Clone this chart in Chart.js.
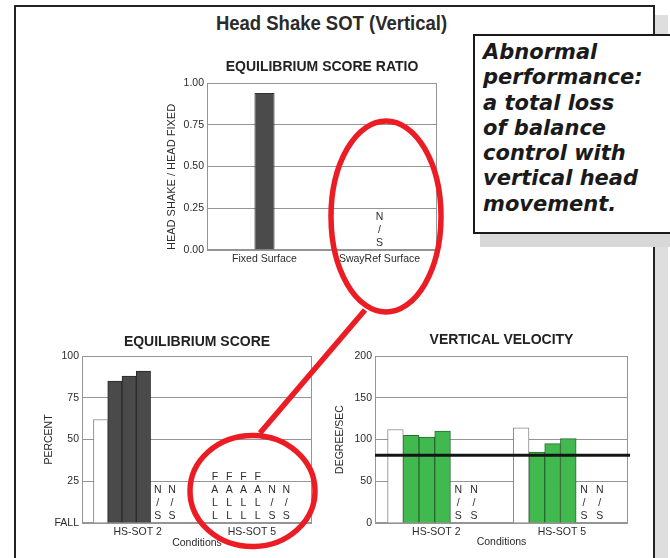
<!DOCTYPE html>
<html>
<head>
<meta charset="utf-8">
<script src="https://cdn.jsdelivr.net/npm/chart.js@4.4.0/dist/chart.umd.min.js"></script>
<style>
  html, body { margin: 0; padding: 0; }
  body { width: 670px; height: 558px; position: relative; overflow: hidden; background: #fff;
         font-family: "Liberation Sans", Arial, sans-serif; }
  .abs { position: absolute; }
  #frameShadow { left: 655px; top: 15px; width: 13px; height: 560px; background: #dedede; }
  #frame { left: 14px; top: 5px; width: 641px; height: 600px; border: 2px solid #222; box-sizing: border-box; background: #fff; }
  #mainTitle { left: 0; top: 12px; width: 663px; text-align: center; font-size: 21px; line-height: 21px;
               font-weight: bold; color: #2a2a2a; transform: scaleX(0.88); transform-origin: 331.5px 0; }
  .chartBox canvas { display: block; }
  #calloutShadow { left: 480px; top: 234px; width: 200px; height: 13px; background: #d8d8d8; }
  #callout { left: 473px; top: 34px; width: 210px; height: 200px; border: 2px solid #1a1a1a; box-sizing: border-box;
             background: #fff; padding: 4px 0 0 8px;
             font-family: "DejaVu Sans", Verdana, sans-serif; font-weight: bold; font-style: italic;
             font-size: 21px; line-height: 25.3px; color: #1a1a1a; }
  #marks { left: 0; top: 0; pointer-events: none; }
</style>
</head>
<body>
<div id="frameShadow" class="abs"></div>
<div id="frame" class="abs"></div>
<div id="mainTitle" class="abs">Head Shake SOT (Vertical)</div>

<div class="abs chartBox" style="left:150px;top:45px;width:300px;height:227px">
  <canvas id="ratioChart" width="300" height="227"></canvas>
</div>
<div class="abs chartBox" style="left:30px;top:322px;width:300px;height:230px">
  <canvas id="scoreChart" width="300" height="230"></canvas>
</div>
<div class="abs chartBox" style="left:330px;top:322px;width:320px;height:230px">
  <canvas id="velocityChart" width="320" height="230"></canvas>
</div>

<div id="calloutShadow" class="abs"></div>
<div id="callout" class="abs">Abnormal<br>performance:<br>a total loss<br>of balance<br>control with<br>vertical head<br>movement.</div>

<svg id="marks" class="abs" width="670" height="558">
  <g fill="none" stroke="#ec1c24" stroke-width="5.5">
    <ellipse cx="386" cy="216.5" rx="55" ry="95.5"></ellipse>
    <ellipse cx="252.5" cy="491" rx="62.5" ry="55.5"></ellipse>
    <line x1="260" y1="433" x2="365" y2="310"></line>
  </g>
</svg>

<script>
// equilibrium score ratio (top)
const ratioLabels = ['Fixed Surface', 'SwayRef Surface'];
const ratioValues = [0.94, null];
const ratioNotes = ['', 'N/S'];
const ratioTicks = [0, 0.25, 0.5, 0.75, 1];

// bottom charts: two conditions, each = normative bar + 5 trials
const conditions = ['HS-SOT 2', 'HS-SOT 5'];

const scoreNormative = [62, null];
const scoreTrials = [[85, 88, 91, null, null], [null, null, null, null, null]];
const scoreNotes = [['', '', '', '', 'N/S', 'N/S'], ['FALL', 'FALL', 'FALL', 'FALL', 'N/S', 'N/S']];
const scoreTicks = [0, 25, 50, 75, 100];

const velocityNormative = [112, 114];
const velocityTrials = [[105, 103, 110, null, null], [85, 95, 101, null, null]];
const velocityNotes = [['', '', '', '', 'N/S', 'N/S'], ['', '', '', '', 'N/S', 'N/S']];
const velocityThreshold = 81;
const velocityTicks = [0, 50, 100, 150, 200];

const FONT = '"Liberation Sans", Arial, sans-serif';
const INK = '#2b2b2b';
Chart.defaults.font.family = FONT;
Chart.defaults.color = INK;

const GRID = '#959595';
const STRIDE = 8;   // slots per condition incl. gap

// grey box round the plot
const plotFrame = {
    id: 'plotFrame',
    beforeDatasetsDraw(chart) {
        const { ctx, chartArea: a } = chart;
        ctx.save();
        ctx.strokeStyle = GRID;
        ctx.lineWidth = 1;
        ctx.strokeRect(Math.round(a.left) + 0.5, Math.round(a.top) + 0.5,
            Math.round(a.right - a.left) - 1, Math.round(a.bottom - a.top) - 1);
        ctx.restore();
    }
};

// stacked letters ("N / S", "F A L L") sitting on the x axis
function notesPlugin(items) {
    return {
        id: 'stackedNotes',
        afterDatasetsDraw(chart) {
            const { ctx, chartArea, scales } = chart;
            ctx.save();
            ctx.font = '10.5px ' + FONT;
            ctx.fillStyle = INK;
            ctx.textAlign = 'center';
            ctx.textBaseline = 'middle';
            items.forEach(item => {
                if (!item.text) return;
                const x = scales.x.getPixelForValue(item.x);
                const chars = item.text.split('');
                chars.forEach((ch, i) => {
                    const y = chartArea.bottom - 7 - (chars.length - 1 - i) * 12.8;
                    ctx.fillText(ch, x, y);
                });
            });
            ctx.restore();
        }
    };
}

function thresholdPlugin(value) {
    return {
        id: 'threshold',
        afterDatasetsDraw(chart) {
            const { ctx, chartArea, scales } = chart;
            const y = scales.y.getPixelForValue(value);
            ctx.save();
            ctx.strokeStyle = '#151515';
            ctx.lineWidth = 3;
            ctx.beginPath();
            ctx.moveTo(chartArea.left, y);
            ctx.lineTo(chartArea.right + 2, y);
            ctx.stroke();
            ctx.restore();
        }
    };
}

function yAxis(ticks, width, title, titlePad, fmt) {
    return {
        min: ticks[0],
        max: ticks[ticks.length - 1],
        afterBuildTicks: s => { s.ticks = ticks.map(v => ({ value: v })); },
        afterFit: s => { s.width = width; },
        border: { display: false },
        grid: { color: GRID, drawTicks: false },
        ticks: { padding: 3, font: { size: 10.5 }, color: INK, callback: fmt },
        title: { display: true, text: title, font: { size: 10.5 },
                 padding: { top: titlePad, bottom: 0 }, color: INK }
    };
}

function chartTitle(text, top, bottom) {
    return { display: true, text, fullSize: false, color: '#222',
             font: { size: 14, weight: 'bold' }, padding: { top, bottom } };
}

// ---- top: equilibrium score ratio ----
const ratioY = yAxis(ratioTicks, 57, 'HEAD SHAKE / HEAD FIXED', 15.4, v => v.toFixed(2));
ratioY.title = { display: true, text: 'HEAD SHAKE / HEAD FIXED', align: 'start',
                 font: { size: 11 }, padding: { top: 15.4, bottom: 0 }, color: INK };

new Chart(document.getElementById('ratioChart'), {
    type: 'bar',
    data: {
        labels: ratioLabels,
        datasets: [{
            label: 'Ratio',
            data: ratioValues,
            backgroundColor: '#4b4b4b',
            borderColor: '#333',
            borderWidth: 1,
            categoryPercentage: 1,
            barPercentage: 0.175
        }]
    },
    options: {
        responsive: false,
        animation: false,
        layout: { padding: { right: 13 } },
        plugins: {
            legend: { display: false },
            tooltip: { enabled: false },
            title: chartTitle('EQUILIBRIUM SCORE RATIO', 13.6, 7.6)
        },
        scales: {
            x: {
                grid: { display: false, drawTicks: false },
                border: { display: false },
                afterFit: s => { s.height = 22; },
                ticks: { padding: 3, font: { size: 10.5 }, color: INK, maxRotation: 0 }
            },
            y: ratioY
        }
    },
    plugins: [plotFrame, notesPlugin(ratioNotes.map((t, i) => ({ x: i, text: t })))]
});

// ---- bottom charts ----
function conditionChart(id, opts) {
    const normData = conditions.map((c, g) => ({ x: g * STRIDE, y: opts.normative[g] }));
    const trialData = conditions.flatMap((c, g) =>
        opts.trials[g].map((v, s) => ({ x: g * STRIDE + 1 + s, y: v })));
    const noteItems = conditions.flatMap((c, g) =>
        opts.notes[g].map((t, s) => ({ x: g * STRIDE + s, text: t })));
    const extra = [plotFrame, notesPlugin(noteItems)];
    if (opts.threshold != null) extra.push(thresholdPlugin(opts.threshold));

    return new Chart(document.getElementById(id), {
        type: 'bar',
        data: {
            datasets: [
                { label: 'Normative', data: normData, backgroundColor: '#fff', borderColor: '#888',
                  borderWidth: 1, grouped: false, categoryPercentage: 1, barPercentage: 1 },
                { label: 'Trials', data: trialData, backgroundColor: opts.fill, borderColor: opts.edge,
                  borderWidth: 1, grouped: false, categoryPercentage: 1, barPercentage: 1 }
            ]
        },
        options: {
            responsive: false,
            animation: false,
            layout: { padding: { right: opts.padRight } },
            plugins: {
                legend: { display: false },
                tooltip: { enabled: false },
                title: chartTitle(opts.title, opts.titlePad[0], opts.titlePad[1])
            },
            scales: {
                x: {
                    type: 'linear',
                    min: -1.3,
                    max: 14.8,
                    offset: false,
                    grid: { display: false, drawTicks: false, offset: false },
                    border: { display: false },
                    afterBuildTicks: s => { s.ticks = conditions.map((c, g) => ({ value: g * STRIDE + 2.6 })); },
                    afterFit: s => { s.height = 29; },
                    ticks: { padding: 3, font: { size: 10.5 }, color: INK, maxRotation: 0,
                             callback: (v, i) => conditions[i] },
                    title: { display: true, text: 'Conditions', font: { size: 10.5 }, color: INK,
                             padding: { top: 0, bottom: opts.condPad } }
                },
                y: yAxis(opts.ticks, opts.axisWidth, opts.yTitle, opts.yTitlePad, opts.fmt)
            }
        },
        plugins: extra
    });
}

conditionChart('scoreChart', {
    title: 'EQUILIBRIUM SCORE',
    normative: scoreNormative,
    trials: scoreTrials,
    notes: scoreNotes,
    ticks: scoreTicks,
    fill: '#4a4a4a',
    edge: '#2a2a2a',
    padRight: 18,
    titlePad: [12.1, 5.1],
    axisWidth: 52,
    yTitle: 'PERCENT',
    yTitlePad: 12.7,
    condPad: 2.7,
    fmt: v => (v === 0 ? 'FALL' : v)
});

conditionChart('velocityChart', {
    title: 'VERTICAL VELOCITY',
    normative: velocityNormative,
    trials: velocityTrials,
    notes: velocityNotes,
    ticks: velocityTicks,
    threshold: velocityThreshold,
    fill: '#41b94f',
    edge: '#276b2e',
    padRight: 22,
    titlePad: [9.6, 7.6],
    axisWidth: 45,
    yTitle: 'DEGREE/SEC',
    yTitlePad: 4.2,
    condPad: 4,
    fmt: v => v
});
</script>
</body>
</html>
